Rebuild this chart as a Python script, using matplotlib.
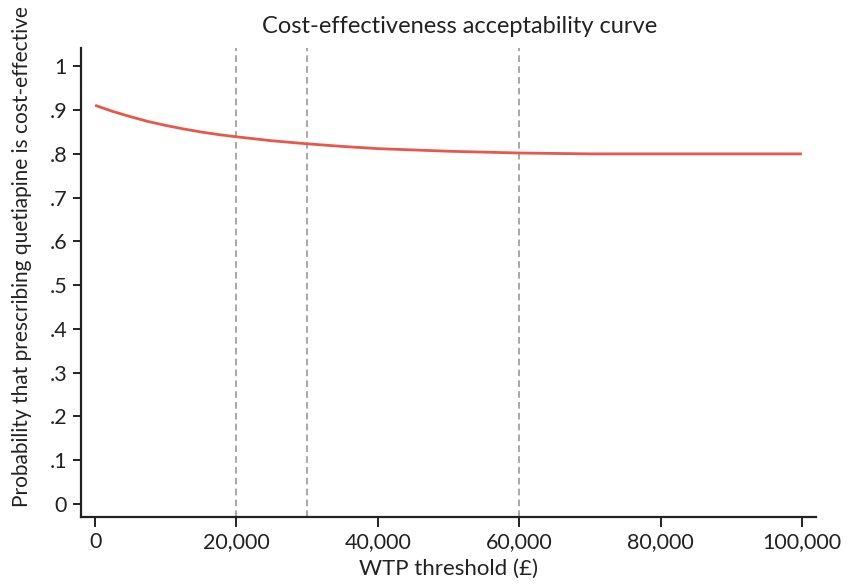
import matplotlib
matplotlib.use("Agg")
import matplotlib.pyplot as plt
from matplotlib.ticker import FuncFormatter

plt.rcParams['font.family'] = ['Lato', 'DejaVu Sans']

wtp = [0, 2500, 5000, 7500, 10000, 12500, 15000, 17500, 20000, 25000, 30000,
       35000, 40000, 45000, 50000, 55000, 60000, 65000, 70000, 80000, 90000, 100000]
prob = [0.911, 0.897, 0.885, 0.874, 0.865, 0.857, 0.850, 0.844, 0.839, 0.830, 0.823,
        0.817, 0.812, 0.809, 0.806, 0.804, 0.802, 0.801, 0.800, 0.800, 0.800, 0.800]
thresholds = [20000, 30000, 60000]
xticks = [0, 20000, 40000, 60000, 80000, 100000]
yticks = [0, 0.1, 0.2, 0.3, 0.4, 0.5, 0.6, 0.7, 0.8, 0.9, 1.0]

fig = plt.figure(figsize=(8.51, 5.86), dpi=100)
ax = fig.add_axes([81/851, 1-517/586, (816-81)/851, (517-48)/586])

for t in thresholds:
    ax.axvline(t, color='#9a9a9a', lw=1.2, ls=(0, (4, 2.5)), zorder=1)
ax.plot(wtp, prob, color='#e8574a', lw=2.0, zorder=3, solid_capstyle='butt')

ax.set_xlim(-2000, 102000)
ax.set_ylim(-0.03, 1.042)
ax.set_xticks(xticks)
ax.set_yticks(yticks)
ax.xaxis.set_major_formatter(FuncFormatter(lambda v, p: f"{int(v):,}"))

def yfmt(v, p):
    if abs(v) < 1e-9:
        return "0"
    if abs(v - 1) < 1e-9:
        return "1"
    return "." + f"{v:.1f}".split(".")[1]
ax.yaxis.set_major_formatter(FuncFormatter(yfmt))

for s in ['top', 'right']:
    ax.spines[s].set_visible(False)
for s in ['left', 'bottom']:
    ax.spines[s].set_linewidth(1.6)
    ax.spines[s].set_color('#222222')
ax.tick_params(axis='both', colors='#222222', labelsize=15.5, width=1.4, length=6, pad=4)
ax.tick_params(axis='x', length=7)

ax.set_title("Cost-effectiveness acceptability curve", fontsize=17, color='#222222',
             pad=11, x=(460-81)/735)
ax.set_xlabel("WTP threshold (£)", fontsize=16, color='#222222', labelpad=5)
ax.set_ylabel("Probability that prescribing quetiapine is cost-effective", fontsize=15,
              color='#222222')
ax.yaxis.set_label_coords(-0.066, (517-257)/469)

fig.savefig("out.png", dpi=100)
